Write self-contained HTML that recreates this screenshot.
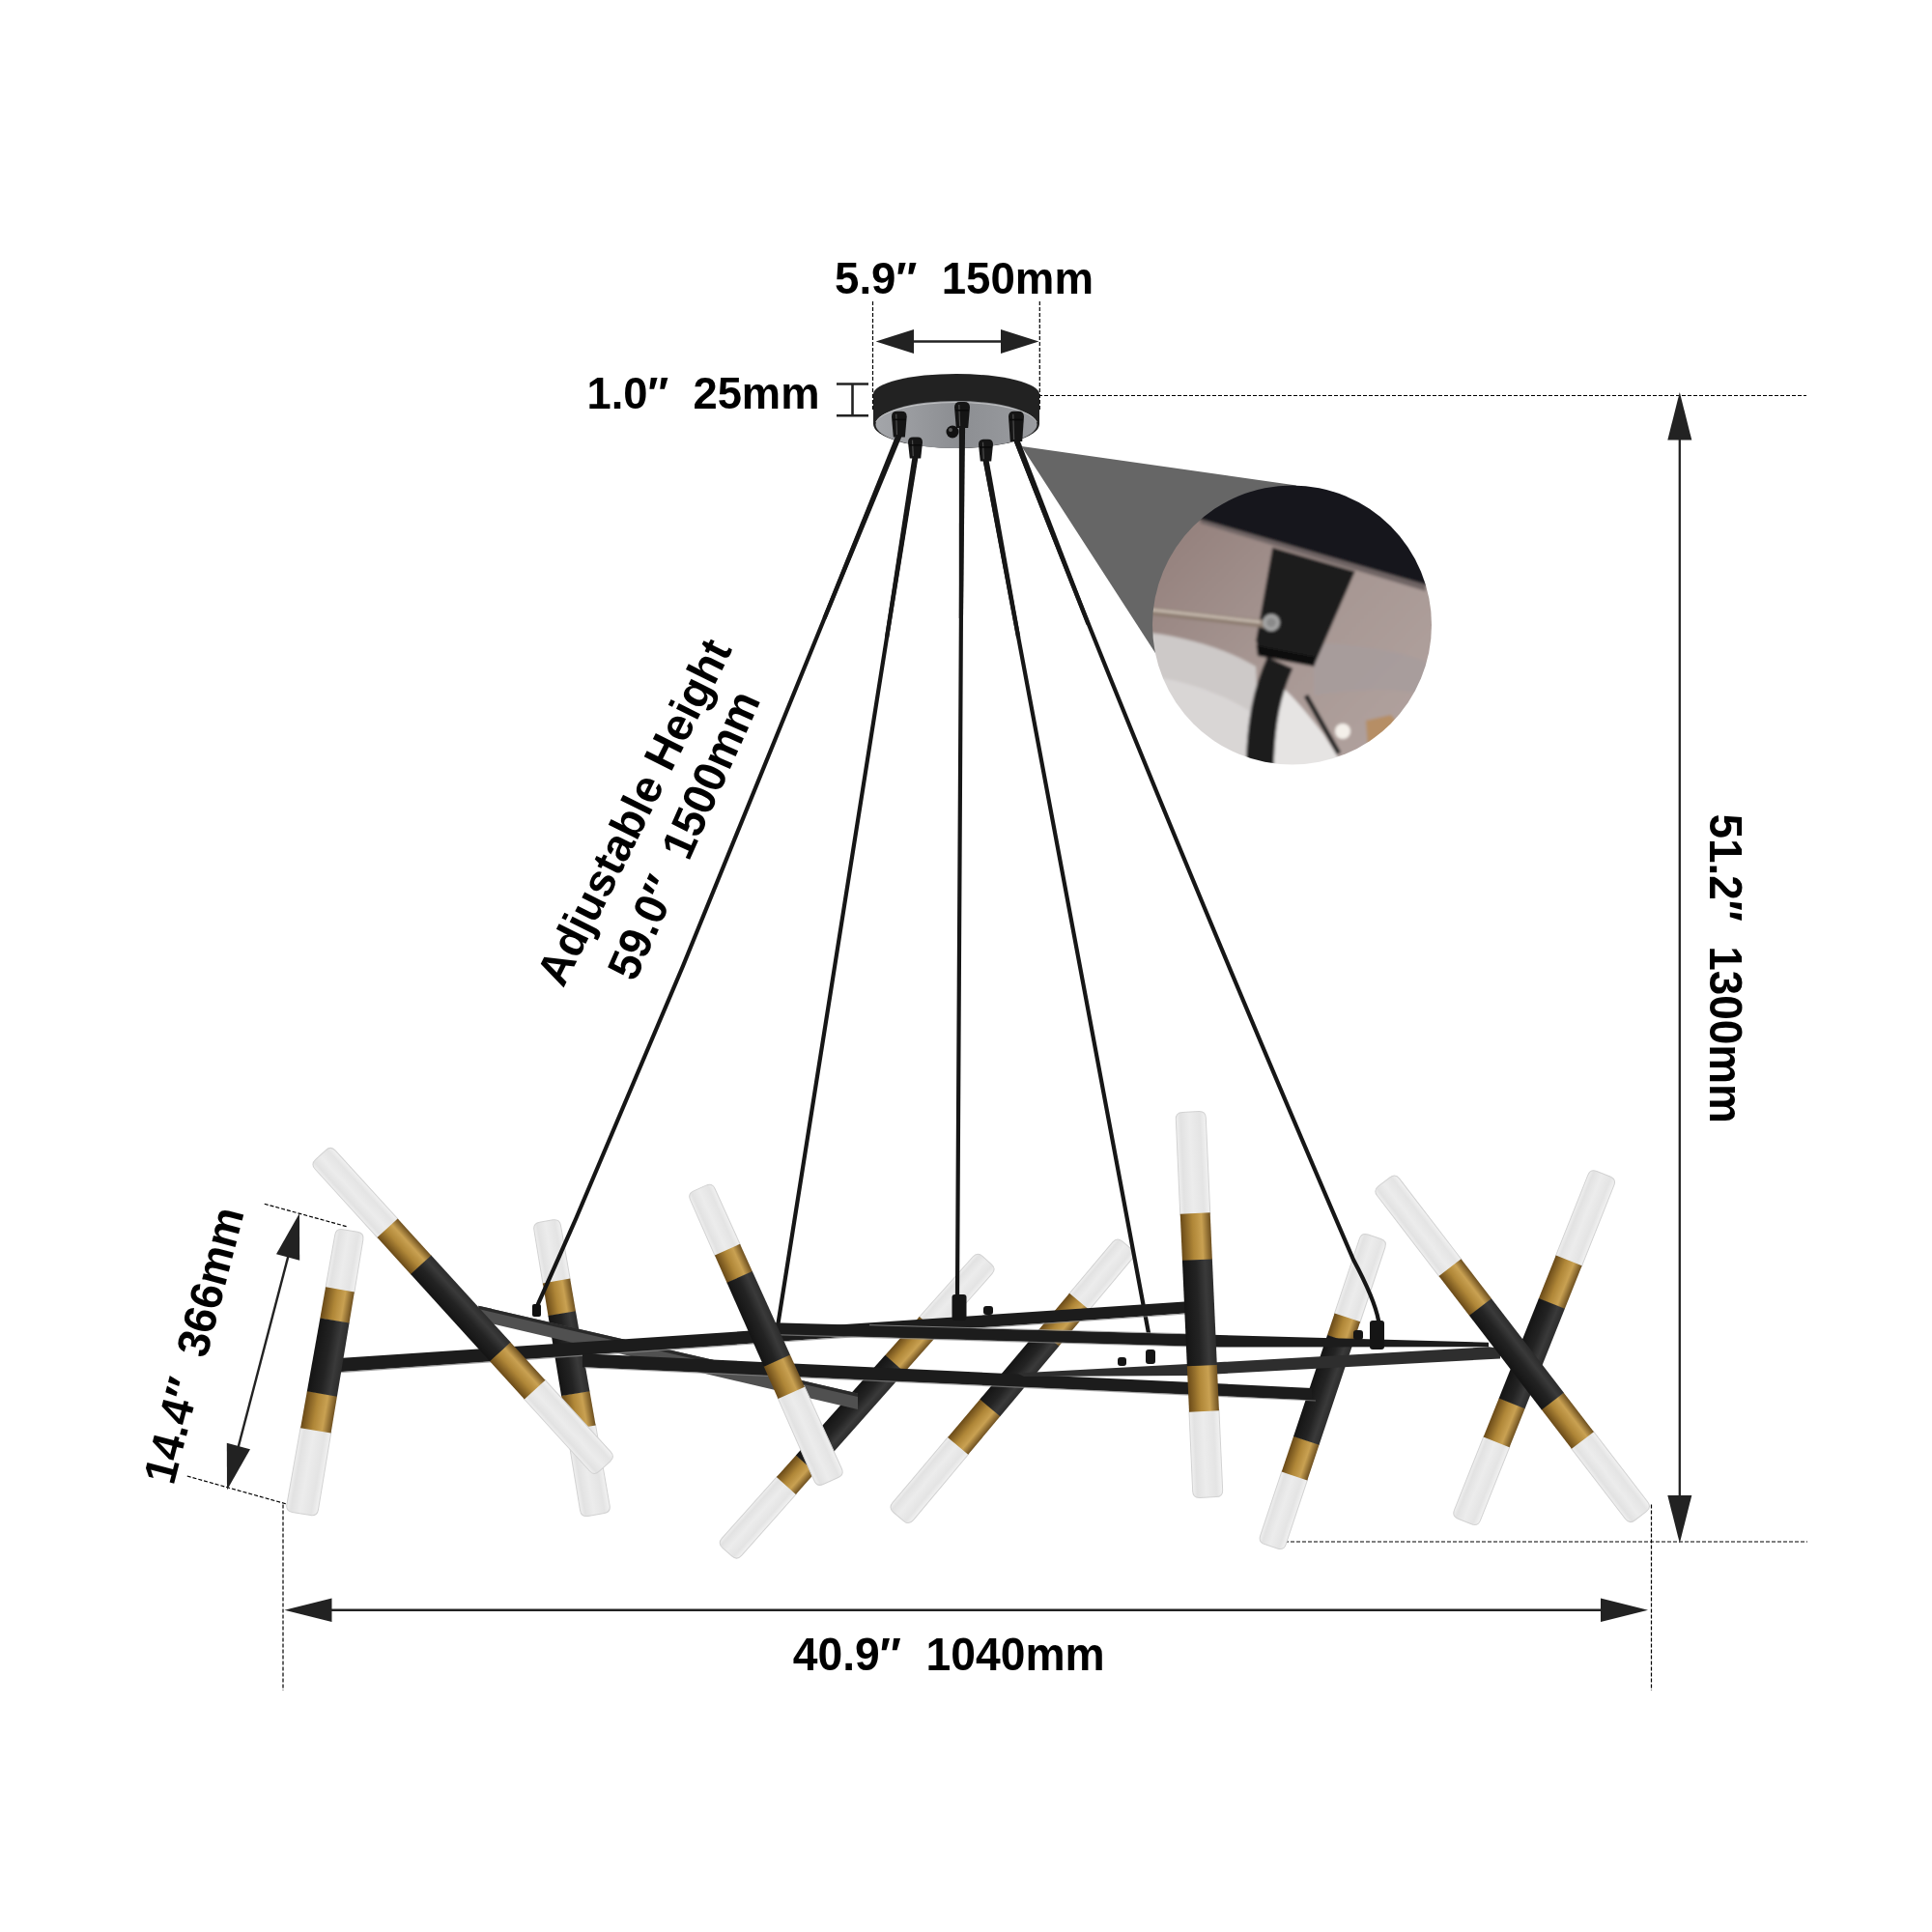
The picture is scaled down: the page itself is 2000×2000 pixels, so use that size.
<!DOCTYPE html>
<html><head><meta charset="utf-8"><title>Chandelier dimensions</title>
<style>html,body{margin:0;padding:0;background:#fff;width:2000px;height:2000px;overflow:hidden}svg{display:block;will-change:transform}</style>
</head><body>
<svg width="2000" height="2000" viewBox="0 0 2000 2000"><defs>
<linearGradient id="gBlack" x1="0" y1="0" x2="0" y2="1">
 <stop offset="0" stop-color="#2c2c2c"/><stop offset="0.25" stop-color="#3a3a3a"/>
 <stop offset="0.55" stop-color="#232323"/><stop offset="1" stop-color="#141414"/>
</linearGradient>
<linearGradient id="gBrass" x1="0" y1="0" x2="0" y2="1">
 <stop offset="0" stop-color="#6e5020"/><stop offset="0.3" stop-color="#c9a152"/>
 <stop offset="0.6" stop-color="#b08738"/><stop offset="1" stop-color="#6a4a18"/>
</linearGradient>
<linearGradient id="gFrost" x1="0" y1="0" x2="0" y2="1">
 <stop offset="0" stop-color="#f2f2f2"/><stop offset="0.2" stop-color="#e4e4e4"/><stop offset="0.55" stop-color="#ececec"/>
 <stop offset="0.85" stop-color="#e2e2e2"/><stop offset="1" stop-color="#f0f0f0"/>
</linearGradient>
<linearGradient id="gCanopyBot" x1="0" y1="0" x2="1" y2="0">
 <stop offset="0" stop-color="#a4a6aa"/><stop offset="0.5" stop-color="#8c8e92"/><stop offset="1" stop-color="#9a9ca0"/>
</linearGradient>
<linearGradient id="gInsetBg" x1="0" y1="0" x2="1" y2="1">
 <stop offset="0" stop-color="#8a7470"/><stop offset="0.5" stop-color="#a89894"/><stop offset="1" stop-color="#b8aaa6"/>
</linearGradient>
<clipPath id="insetClip"><circle cx="1337.5" cy="647" r="144.5"/></clipPath>
<filter id="soft" x="-5%" y="-5%" width="110%" height="110%"><feGaussianBlur stdDeviation="1.6"/></filter>
</defs><rect width="2000" height="2000" fill="#fff"/><text x="864" y="304" font-family="Liberation Sans, sans-serif" font-weight="bold" font-size="46" fill="#000" text-anchor="start" textLength="268" lengthAdjust="spacingAndGlyphs" xml:space="preserve">5.9″  150mm</text>
<text x="607.5" y="423" font-family="Liberation Sans, sans-serif" font-weight="bold" font-size="47" fill="#000" text-anchor="start" textLength="241" lengthAdjust="spacingAndGlyphs" xml:space="preserve">1.0″  25mm</text>
<text x="820.7" y="1728.6" font-family="Liberation Sans, sans-serif" font-weight="bold" font-size="47.5" fill="#000" text-anchor="start" textLength="323" lengthAdjust="spacingAndGlyphs" xml:space="preserve">40.9″  1040mm</text>
<text x="1769.9" y="842.4" font-family="Liberation Sans, sans-serif" font-weight="bold" font-size="47.5" fill="#000" text-anchor="start" textLength="320.4" lengthAdjust="spacingAndGlyphs" transform="rotate(90 1769.9 842.4)" xml:space="preserve">51.2″  1300mm</text>
<text x="179.5" y="1538.5" font-family="Liberation Sans, sans-serif" font-weight="bold" font-size="47" fill="#000" text-anchor="start" textLength="293" lengthAdjust="spacingAndGlyphs" transform="rotate(-75.5 179.5 1538.5)" xml:space="preserve">14.4″  366mm</text>
<text x="670.8" y="847.7" font-family="Liberation Sans, sans-serif" font-weight="bold" font-size="47" fill="#000" text-anchor="middle" textLength="393" lengthAdjust="spacingAndGlyphs" transform="rotate(-63.5 670.8 847.7)" xml:space="preserve">Adjustable Height</text>
<text x="722.5" y="871" font-family="Liberation Sans, sans-serif" font-weight="bold" font-size="47" fill="#000" text-anchor="middle" textLength="321" lengthAdjust="spacingAndGlyphs" transform="rotate(-66 722.5 871)" xml:space="preserve">59.0″  1500mm</text>
<line x1="903.5" y1="312" x2="903.5" y2="424" stroke="#000" stroke-width="1.2" stroke-dasharray="4 2" fill="none"/>
<line x1="1076.3" y1="312" x2="1076.3" y2="424" stroke="#000" stroke-width="1.2" stroke-dasharray="4 2" fill="none"/>
<line x1="942.06" y1="353.5" x2="1039.94" y2="353.5" stroke="#222" stroke-width="2.5"/><polygon points="906.6,353.5 946,341 946,366" fill="#222"/><polygon points="1075.4,353.5 1036,366 1036,341" fill="#222"/>
<line x1="866" y1="397.5" x2="899" y2="397.5" stroke="#222" stroke-width="2.6"/>
<line x1="866" y1="430.2" x2="899" y2="430.2" stroke="#222" stroke-width="2.6"/>
<line x1="882.5" y1="397.5" x2="882.5" y2="430.2" stroke="#222" stroke-width="2.6"/>
<line x1="1003" y1="409.5" x2="1870" y2="409.5" stroke="#000" stroke-width="1.2" stroke-dasharray="4 2" fill="none"/>
<line x1="1330" y1="1596" x2="1871" y2="1596" stroke="#000" stroke-width="1.2" stroke-dasharray="4 2" fill="none"/>
<line x1="1738.8" y1="450.55" x2="1738.8" y2="1552.95" stroke="#222" stroke-width="2.3"/><polygon points="1738.8,406 1751.3,455.5 1726.3,455.5" fill="#222"/><polygon points="1738.8,1597.5 1726.3,1548 1751.3,1548" fill="#222"/>
<line x1="293" y1="1557.5" x2="293" y2="1750" stroke="#000" stroke-width="1.2" stroke-dasharray="4 2" fill="none"/>
<line x1="1709.5" y1="1557.5" x2="1709.5" y2="1750" stroke="#000" stroke-width="1.2" stroke-dasharray="4 2" fill="none"/>
<line x1="338.6" y1="1666.8" x2="1661.9" y2="1666.8" stroke="#222" stroke-width="2.5"/><polygon points="294.5,1666.8 343.5,1654.5 343.5,1679.1" fill="#222"/><polygon points="1706,1666.8 1657,1679.1 1657,1654.5" fill="#222"/>
<line x1="273.75" y1="1246.25" x2="360" y2="1270" stroke="#000" stroke-width="1.2" stroke-dasharray="4 2" fill="none"/>
<line x1="193.75" y1="1528" x2="307.5" y2="1560" stroke="#000" stroke-width="1.2" stroke-dasharray="4 2" fill="none"/>
<line x1="299.29" y1="1296.92" x2="245.71" y2="1501.58" stroke="#222" stroke-width="2.4"/><polygon points="310,1256 310.19,1304.63 286,1298.3" fill="#222"/><polygon points="235,1542.5 234.81,1493.87 259,1500.2" fill="#222"/>
<path d="M904,408 A86,21 0 0 1 1076,408 L1076,439 A86,25 0 0 1 904,439 Z" fill="#222"/>
<ellipse cx="990" cy="439.5" rx="83.5" ry="24.5" fill="url(#gCanopyBot)"/>
<path d="M906.5,437 A84,23 0 0 1 1073.5,437" fill="none" stroke="#e8e8e8" stroke-width="0.8" opacity="0.7"/>
<circle cx="986" cy="447" r="6.5" fill="#111"/>
<circle cx="984" cy="445" r="2" fill="#555"/>
<path d="M923,431.19 Q923,425.7 928.5,425.7 L933.21,425.7 Q938.7,425.7 938.7,431.19 L936.9,452.6 L924.8,452.6 Z" fill="#151515"/><line x1="927.71" y1="428.7" x2="928.51" y2="450.6" stroke="#5a5a5a" stroke-width="1.2" opacity="0.8"/><line x1="924" y1="434.34" x2="937.7" y2="434.34" stroke="#0a0a0a" stroke-width="1.5"/>
<path d="M940,457.85 Q940,452.6 945.25,452.6 L949.75,452.6 Q955,452.6 955,457.85 L953.2,474.4 L941.8,474.4 Z" fill="#151515"/><line x1="944.5" y1="455.6" x2="945.3" y2="472.4" stroke="#5a5a5a" stroke-width="1.2" opacity="0.8"/><line x1="941" y1="460.85" x2="954" y2="460.85" stroke="#0a0a0a" stroke-width="1.5"/>
<path d="M988,421.6 Q988,416 993.6,416 L998.4,416 Q1004,416 1004,421.6 L1002.2,443 L989.8,443 Z" fill="#151515"/><line x1="992.8" y1="419" x2="993.6" y2="441" stroke="#5a5a5a" stroke-width="1.2" opacity="0.8"/><line x1="989" y1="424.8" x2="1003" y2="424.8" stroke="#0a0a0a" stroke-width="1.5"/>
<path d="M1013,459.95 Q1013,454.7 1018.25,454.7 L1022.75,454.7 Q1028,454.7 1028,459.95 L1026.2,477.5 L1014.8,477.5 Z" fill="#151515"/><line x1="1017.5" y1="457.7" x2="1018.3" y2="475.5" stroke="#5a5a5a" stroke-width="1.2" opacity="0.8"/><line x1="1014" y1="462.95" x2="1027" y2="462.95" stroke="#0a0a0a" stroke-width="1.5"/>
<path d="M1044,431.3 Q1044,425.7 1049.6,425.7 L1054.4,425.7 Q1060,425.7 1060,431.3 L1058.2,457 L1045.8,457 Z" fill="#151515"/><line x1="1048.8" y1="428.7" x2="1049.6" y2="455" stroke="#5a5a5a" stroke-width="1.2" opacity="0.8"/><line x1="1045" y1="434.5" x2="1059" y2="434.5" stroke="#0a0a0a" stroke-width="1.5"/>
<polygon points="1057.5,462 1342,502.5 1196,676" fill="#666"/>
<g clip-path="url(#insetClip)"><g filter="url(#soft)"><rect x="1190" y="500" width="300" height="300" fill="#a0908c"/><rect x="1190" y="500" width="300" height="300" fill="url(#gInsetBg)" opacity="0.8"/><path d="M1360,665 C1400,668 1450,672 1490,690 L1490,720 C1440,712 1400,712 1360,720 Z" fill="#a69c9c" opacity="0.8"/><path d="M1190,655 C1230,660 1270,672 1300,690 L1305,800 L1190,800 Z" fill="#cdc9c8"/><path d="M1190,700 C1230,705 1270,720 1300,740 L1310,800 L1190,800 Z" fill="#d9d6d5"/><path d="M1318,705 C1335,715 1350,735 1370,760 L1395,800 L1315,800 Z" fill="#e6e4e3"/><path d="M1414,746 L1440,740 L1452,756 L1430,770 L1416,774 Z" fill="#b88a58" opacity="0.8"/><circle cx="1390" cy="757" r="8" fill="#f4f0ea"/><line x1="1352" y1="720" x2="1386" y2="780" stroke="#222" stroke-width="5"/><path d="M1190,500 L1490,500 L1490,608 L1475.7,605.6 L1243.6,538 L1190,530 Z" fill="#16191c"/><path d="M1243.6,538 L1475.7,605.6 L1476,612 L1242,541.5 Z" fill="#6e6464"/><path d="M1317.3,566.8 L1402.7,591.6 L1360.8,687.9 L1303.4,675.5 L1300.2,663 Z" fill="#1b1b1b"/><path d="M1300.5,668 L1362,680 L1360.5,690 L1302,679 Z" fill="#0e0e0e"/><path d="M1325,686 C1312,715 1305,745 1304,800" stroke="#1e1e1e" stroke-width="29" fill="none"/><line x1="1190" y1="632.5" x2="1310" y2="646" stroke="#8c7c70" stroke-width="8"/><line x1="1190" y1="631" x2="1305" y2="644" stroke="#c8bcb0" stroke-width="3"/><circle cx="1316" cy="644.5" r="9" fill="#a4a4a4"/><circle cx="1316" cy="644.5" r="5" fill="#8a8a8a"/></g></g>
<g transform="translate(565.5 1264) rotate(80.38)"><path d="M63.9,-14.31 L63.9,14.31 L7,14 Q0,14 0,7 L0,-7 Q0,-14 7,-14 Z" fill="url(#gFrost)" stroke="#d2d2d2" stroke-width="1"/><path d="M216.07,-15.05 L216.07,15.05 L301.33,15.5 Q308.33,15.5 308.33,8.5 L308.33,-8.5 Q308.33,-15.5 301.33,-15.5 Z" fill="url(#gFrost)" stroke="#d2d2d2" stroke-width="1"/><path d="M62.9,-14.31 L97.43,-14.47 L97.43,14.47 L62.9,14.31 Z" fill="url(#gBrass)"/><path d="M180.68,-14.88 L217.07,-15.06 L217.07,15.06 L180.68,14.88 Z" fill="url(#gBrass)"/><path d="M96.93,-14.47 L181.18,-14.88 L181.18,14.88 L96.93,14.47 Z" fill="url(#gBlack)"/></g>
<g transform="translate(1021.7 1304.6) rotate(131.68)"><path d="M91.17,-13.31 L91.17,13.31 L7,13.25 Q0,13.25 0,6.25 L0,-6.25 Q0,-13.25 7,-13.25 Z" fill="url(#gFrost)" stroke="#d2d2d2" stroke-width="1"/><path d="M311.57,-13.44 L311.57,13.44 L397.37,13.5 Q404.37,13.5 404.37,6.5 L404.37,-6.5 Q404.37,-13.5 397.37,-13.5 Z" fill="url(#gFrost)" stroke="#d2d2d2" stroke-width="1"/><path d="M90.17,-13.31 L143.95,-13.34 L143.95,13.34 L90.17,13.31 Z" fill="url(#gBrass)"/><path d="M281.84,-13.42 L312.57,-13.44 L312.57,13.44 L281.84,13.42 Z" fill="url(#gBrass)"/><path d="M143.45,-13.34 L282.34,-13.42 L282.34,13.42 L143.45,13.34 Z" fill="url(#gBlack)"/></g>
<g transform="translate(1166.5 1289) rotate(130.06)"><path d="M77.37,-13.41 L77.37,13.41 L7,13.25 Q0,13.25 0,6.25 L0,-6.25 Q0,-13.25 7,-13.25 Z" fill="url(#gFrost)" stroke="#d2d2d2" stroke-width="1"/><path d="M270.69,-13.8 L270.69,13.8 L360.15,14 Q367.15,14 367.15,7 L367.15,-7 Q367.15,-14 360.15,-14 Z" fill="url(#gFrost)" stroke="#d2d2d2" stroke-width="1"/><path d="M76.37,-13.41 L125.57,-13.51 L125.57,13.51 L76.37,13.41 Z" fill="url(#gBrass)"/><path d="M219.56,-13.7 L271.69,-13.8 L271.69,13.8 L219.56,13.7 Z" fill="url(#gBrass)"/><path d="M125.07,-13.51 L220.06,-13.7 L220.06,13.7 L125.07,13.51 Z" fill="url(#gBlack)"/></g>
<g transform="translate(1422.8 1280.2) rotate(108.47)"><path d="M89.22,-14 L89.22,14 L7,14 Q0,14 0,7 L0,-7 Q0,-14 7,-14 Z" fill="url(#gFrost)" stroke="#d2d2d2" stroke-width="1"/><path d="M260.29,-14 L260.29,14 L331.02,14 Q338.02,14 338.02,7 L338.02,-7 Q338.02,-14 331.02,-14 Z" fill="url(#gFrost)" stroke="#d2d2d2" stroke-width="1"/><path d="M88.22,-14 L112.56,-14 L112.56,14 L88.22,14 Z" fill="url(#gBrass)"/><path d="M222.08,-14 L261.29,-14 L261.29,14 L222.08,14 Z" fill="url(#gBrass)"/><path d="M112.06,-14 L222.58,-14 L222.58,14 L112.06,14 Z" fill="url(#gBlack)"/></g>
<g transform="translate(1659.9 1215.3) rotate(111.75)"><path d="M97.43,-14.5 L97.43,14.5 L7,14.5 Q0,14.5 0,7.5 L0,-7.5 Q0,-14.5 7,-14.5 Z" fill="url(#gFrost)" stroke="#d2d2d2" stroke-width="1"/><path d="M297.97,-14.5 L297.97,14.5 L380.27,14.5 Q387.27,14.5 387.27,7.5 L387.27,-7.5 Q387.27,-14.5 380.27,-14.5 Z" fill="url(#gFrost)" stroke="#d2d2d2" stroke-width="1"/><path d="M96.43,-14.5 L144.84,-14.5 L144.84,14.5 L96.43,14.5 Z" fill="url(#gBrass)"/><path d="M255.21,-14.5 L298.97,-14.5 L298.97,14.5 L255.21,14.5 Z" fill="url(#gBrass)"/><path d="M144.34,-14.5 L255.71,-14.5 L255.71,14.5 L144.34,14.5 Z" fill="url(#gBlack)"/></g>
<path d="M930,452 L707,1000 L596,1262 Q566,1330 556,1352" stroke="#161616" stroke-width="4.2" fill="none" stroke-linecap="round"/>
<polygon points="927.72,449.87 851.55,639.21 855.44,640.79 933.28,452.13" fill="#161616"/>
<polygon points="944.54,472.53 915.95,659.67 920.1,660.33 950.46,473.47" fill="#161616"/>
<polygon points="992.9,441.98 992.8,639.99 997,640.01 999.1,442.02" fill="#161616"/>
<polygon points="1017.55,476.54 1052.18,660.38 1056.31,659.62 1023.45,475.46" fill="#161616"/>
<polygon points="1049.7,457.09 1124.52,646.76 1128.44,645.24 1055.3,454.91" fill="#161616"/>
<path d="M947.5,474 L805.5,1370" stroke="#161616" stroke-width="4.2" fill="none" stroke-linecap="round"/>
<path d="M996,443 L991,1342" stroke="#161616" stroke-width="4.2" fill="none" stroke-linecap="round"/>
<path d="M1020,477 L1189,1380" stroke="#161616" stroke-width="4.2" fill="none" stroke-linecap="round"/>
<path d="M1052,457 Q1200,836.5 1401,1304 Q1423,1345 1427,1367" stroke="#161616" stroke-width="4.2" fill="none" stroke-linecap="round"/>
<polygon points="495.3,1351.7 888,1442.4 888,1459 500,1368" fill="#505050"/>
<polygon points="495.3,1351.7 888,1442.4 888,1446 495.3,1355" fill="#2a2a2a"/>
<polygon points="350.9,1406.1 1230,1347.29 1230,1359.29 350.9,1420.3" fill="#1c1c1c"/>
<line x1="352" y1="1420.63" x2="1228" y2="1360.02" stroke="#8a8a8a" stroke-width="1.2" opacity="0.8"/>
<polygon points="792,1369.03 1541,1389.63 1541,1394.13 1262,1394.45 792,1381.03" fill="#1c1c1c"/>
<line x1="900" y1="1371.7" x2="1228" y2="1380.72" stroke="#9a9a9a" stroke-width="1" opacity="0.75"/>
<line x1="800" y1="1381.65" x2="1260" y2="1394.8" stroke="#8a8a8a" stroke-width="1.1" opacity="0.7"/>
<polygon points="603,1401.25 1358,1436.89 1358,1449.39 603,1415.25" fill="#1c1c1c"/>
<line x1="605" y1="1415.75" x2="1362" y2="1449.98" stroke="#8a8a8a" stroke-width="1.2" opacity="0.7"/>
<polygon points="1053,1421.5 1229.8,1412 1541,1394.3 1553,1396 1553,1406.5 1229.8,1424 1060,1425" fill="#2e2e2e"/>
<rect x="551" y="1350" width="9" height="13" rx="2" fill="#111"/>
<rect x="985.5" y="1340" width="15" height="27" rx="3" fill="#151515"/>
<rect x="1018" y="1352" width="10" height="9" rx="3" fill="#151515"/>
<rect x="1418" y="1367" width="15" height="30" rx="3" fill="#151515"/>
<rect x="1401" y="1377" width="10" height="10" rx="3" fill="#151515"/>
<rect x="1157" y="1405" width="9" height="9" rx="3" fill="#151515"/>
<rect x="1186" y="1397" width="10" height="15" rx="3" fill="#151515"/>
<g transform="translate(362.5 1274) rotate(99.78)"><path d="M62.84,-15.12 L62.84,15.12 L7,14.75 Q0,14.75 0,7.75 L0,-7.75 Q0,-14.75 7,-14.75 Z" fill="url(#gFrost)" stroke="#d2d2d2" stroke-width="1"/><path d="M208.91,-15.98 L208.91,15.98 L290.32,16.5 Q297.32,16.5 297.32,9.5 L297.32,-9.5 Q297.32,-16.5 290.32,-16.5 Z" fill="url(#gFrost)" stroke="#d2d2d2" stroke-width="1"/><path d="M61.84,-15.11 L94.85,-15.31 L94.85,15.31 L61.84,15.11 Z" fill="url(#gBrass)"/><path d="M170.96,-15.76 L209.91,-15.99 L209.91,15.99 L170.96,15.76 Z" fill="url(#gBrass)"/><path d="M94.35,-15.31 L171.46,-15.76 L171.46,15.76 L94.35,15.31 Z" fill="url(#gBlack)"/></g>
<g transform="translate(724.5 1230) rotate(65.91)"><path d="M70.7,-14.32 L70.7,14.32 L7,14 Q0,14 0,7 L0,-7 Q0,-14 7,-14 Z" fill="url(#gFrost)" stroke="#d2d2d2" stroke-width="1"/><path d="M231.01,-15.04 L231.01,15.04 L324.92,15.5 Q331.92,15.5 331.92,8.5 L331.92,-8.5 Q331.92,-15.5 324.92,-15.5 Z" fill="url(#gFrost)" stroke="#d2d2d2" stroke-width="1"/><path d="M69.7,-14.31 L101.23,-14.46 L101.23,14.46 L69.7,14.31 Z" fill="url(#gBrass)"/><path d="M195.17,-14.88 L232.01,-15.05 L232.01,15.05 L195.17,14.88 Z" fill="url(#gBrass)"/><path d="M100.73,-14.46 L195.67,-14.88 L195.67,14.88 L100.73,14.46 Z" fill="url(#gBlack)"/></g>
<g transform="translate(1232.5 1151) rotate(87.42)"><path d="M106.04,-15.5 L106.04,15.5 L7,15.5 Q0,15.5 0,8.5 L0,-8.5 Q0,-15.5 7,-15.5 Z" fill="url(#gFrost)" stroke="#d2d2d2" stroke-width="1"/><path d="M309.34,-15.5 L309.34,15.5 L392.41,15.5 Q399.41,15.5 399.41,8.5 L399.41,-8.5 Q399.41,-15.5 392.41,-15.5 Z" fill="url(#gFrost)" stroke="#d2d2d2" stroke-width="1"/><path d="M105.04,-15.5 L153.77,-15.5 L153.77,15.5 L105.04,15.5 Z" fill="url(#gBrass)"/><path d="M262.41,-15.5 L310.34,-15.5 L310.34,15.5 L262.41,15.5 Z" fill="url(#gBrass)"/><path d="M153.27,-15.5 L262.91,-15.5 L262.91,15.5 L153.27,15.5 Z" fill="url(#gBlack)"/></g>
<g transform="translate(332 1195.5) rotate(47.65)"><path d="M103.55,-14.37 L103.55,14.37 L7,14.25 Q0,14.25 0,7.25 L0,-7.25 Q0,-14.25 7,-14.25 Z" fill="url(#gFrost)" stroke="#d2d2d2" stroke-width="1"/><path d="M328.04,-14.63 L328.04,14.63 L429.4,14.75 Q436.4,14.75 436.4,7.75 L436.4,-7.75 Q436.4,-14.75 429.4,-14.75 Z" fill="url(#gFrost)" stroke="#d2d2d2" stroke-width="1"/><path d="M102.55,-14.37 L154.48,-14.43 L154.48,14.43 L102.55,14.37 Z" fill="url(#gBrass)"/><path d="M275.37,-14.57 L329.04,-14.63 L329.04,14.63 L275.37,14.57 Z" fill="url(#gBrass)"/><path d="M153.98,-14.43 L275.87,-14.57 L275.87,14.57 L153.98,14.43 Z" fill="url(#gBlack)"/></g>
<g transform="translate(1432.9 1223.4) rotate(52.48)"><path d="M112.83,-14.5 L112.83,14.5 L7,14.5 Q0,14.5 0,7.5 L0,-7.5 Q0,-14.5 7,-14.5 Z" fill="url(#gFrost)" stroke="#d2d2d2" stroke-width="1"/><path d="M336.44,-14.5 L336.44,14.5 L428.97,14.5 Q435.97,14.5 435.97,7.5 L435.97,-7.5 Q435.97,-14.5 428.97,-14.5 Z" fill="url(#gFrost)" stroke="#d2d2d2" stroke-width="1"/><path d="M111.83,-14.5 L163.92,-14.5 L163.92,14.5 L111.83,14.5 Z" fill="url(#gBrass)"/><path d="M285.99,-14.5 L337.44,-14.5 L337.44,14.5 L285.99,14.5 Z" fill="url(#gBrass)"/><path d="M163.42,-14.5 L286.49,-14.5 L286.49,14.5 L163.42,14.5 Z" fill="url(#gBlack)"/></g></svg>
</body></html>
